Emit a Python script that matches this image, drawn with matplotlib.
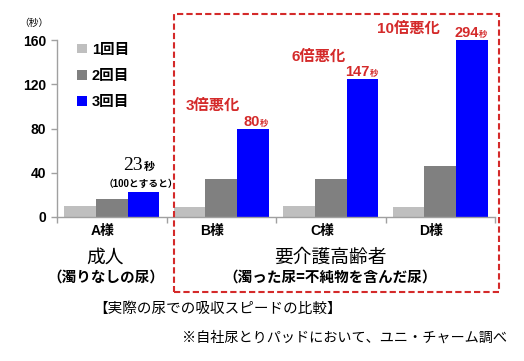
import matplotlib
matplotlib.use("Agg")
import matplotlib.pyplot as plt
from matplotlib.patches import Rectangle
import numpy as np

# data
categories = ["A様", "B様", "C様", "D様"]
series_names = ["1回目", "2回目", "3回目"]
first = [10, 9, 10, 9]
second = [16, 34, 34, 46]
third = [23, 80, 125, 160]
third_labels = ["23", "80", "147", "294"]
worse_labels = ["", "3倍悪化", "6倍悪化", "10倍悪化"]
yticks = [0, 40, 80, 120, 160]

colors = ["#BFBFBF", "#808080", "#0000FF"]
red = "#D42A2A"
gray = "#A0A0A0"
JP = ["Liberation Sans", "Noto Sans CJK JP"]
GOTH = ["Noto Sans CJK JP"]

W, H = 524, 361
fig = plt.figure(figsize=(W / 100, H / 100), dpi=100)


def fx(px):
    return px / W


def fy(py):
    return 1 - py / H


ax = fig.add_axes([fx(57), fy(217), 438 / W, 177 / H])

x = np.arange(len(categories))
w = 0.29
for i, vals in enumerate([first, second, third]):
    ax.bar(x + (i - 1) * w, vals, w, color=colors[i], label=series_names[i], zorder=2)

ax.set_xlim(-0.5, len(categories) - 0.5)
ax.set_ylim(0, 160)
ax.set_yticks(yticks)
ax.set_yticklabels([str(t) for t in yticks], family=JP, weight="bold", fontsize=10)
ax.tick_params(axis="y", direction="out", length=4, width=1, color=gray, pad=4)

ax.set_xticks(x - 0.08)
ax.set_xticklabels(categories, family=JP, weight="bold", fontsize=10)
ax.set_xticks(np.arange(len(categories) + 1) - 0.5, minor=True)
ax.tick_params(axis="x", which="major", length=0, pad=5)
ax.tick_params(axis="x", which="minor", direction="out", length=4, width=1, color=gray)

for s in ["top", "right"]:
    ax.spines[s].set_visible(False)
for s in ["left", "bottom"]:
    ax.spines[s].set_color(gray)
    ax.spines[s].set_linewidth(1)

ax.legend(loc="upper left", bbox_to_anchor=(0.046, 0.985), frameon=False,
          prop={"family": JP, "weight": "bold", "size": 10.5},
          handlelength=0.65, handleheight=0.65, handletextpad=0.35,
          labelspacing=0.85, borderpad=0, borderaxespad=0)

# value labels on the 3rd bars
for j in range(len(categories)):
    xc = x[j] + w
    v = third[j]
    if j == 0:
        ax.annotate(third_labels[j], (xc, v), xytext=(-1, 22), textcoords="offset pixels",
                    ha="right", va="baseline", family=["Liberation Serif"], fontsize=14,
                    annotation_clip=False)
        ax.annotate("秒", (xc, v), xytext=(0, 22), textcoords="offset pixels",
                    ha="left", va="baseline", family=GOTH, weight="bold", fontsize=8,
                    annotation_clip=False)
        ax.annotate("（100とすると）", (xc, v), xytext=(-3, 8), textcoords="offset pixels",
                    ha="center", va="center", family=JP, weight="bold", fontsize=7,
                    annotation_clip=False)
        continue
    ax.annotate(third_labels[j], (xc, v), xytext=(7, 3), textcoords="offset pixels",
                ha="right", va="baseline", family=JP, weight="bold", fontsize=10.5,
                color=red, annotation_clip=False)
    ax.annotate("秒", (xc, v), xytext=(7, 3), textcoords="offset pixels",
                ha="left", va="baseline", family=GOTH, weight="bold", fontsize=6,
                color=red, annotation_clip=False)

worse_offsets = [None, (-40, 23), (-44, 22), (-64, 11)]
for j in range(1, len(categories)):
    ax.annotate(worse_labels[j], (x[j] + w, third[j]), xytext=worse_offsets[j],
                textcoords="offset pixels", ha="center", va="center",
                family=JP, weight="bold", fontsize=11, color=red,
                annotation_clip=False)

fig.text(fx(34), fy(23), "（秒）", family=GOTH, fontsize=7, ha="center", va="center")

# group captions below the axis
fig.text(fx(105), fy(257), "成人", family=GOTH, fontsize=13.5, ha="center", va="center")
fig.text(fx(106), fy(277), "（濁りなしの尿）", family=GOTH, weight="bold", fontsize=10.5,
         ha="center", va="center")
fig.text(fx(330), fy(257), "要介護高齢者", family=GOTH, fontsize=13.5, ha="center", va="center")
fig.text(fx(330), fy(277), "（濁った尿=不純物を含んだ尿）", family=GOTH, weight="bold",
         fontsize=10.5, ha="center", va="center")

fig.text(fx(218), fy(309), "【実際の尿での吸収スピードの比較】", family=GOTH, fontsize=10.5,
         ha="center", va="center")
fig.text(fx(507), fy(338), "※自社尿とりパッドにおいて、ユニ・チャーム調べ", family=GOTH,
         fontsize=10.2, ha="right", va="center")

# red dashed frame around the elderly group
fig.patches.append(Rectangle((fx(174), fy(292)), (499 - 174) / W, (292 - 14) / H,
                             transform=fig.transFigure, fill=False, edgecolor=red,
                             linewidth=1.5, linestyle=(0, (3, 1.5)), zorder=5))

fig.savefig("out.png", dpi=100)
